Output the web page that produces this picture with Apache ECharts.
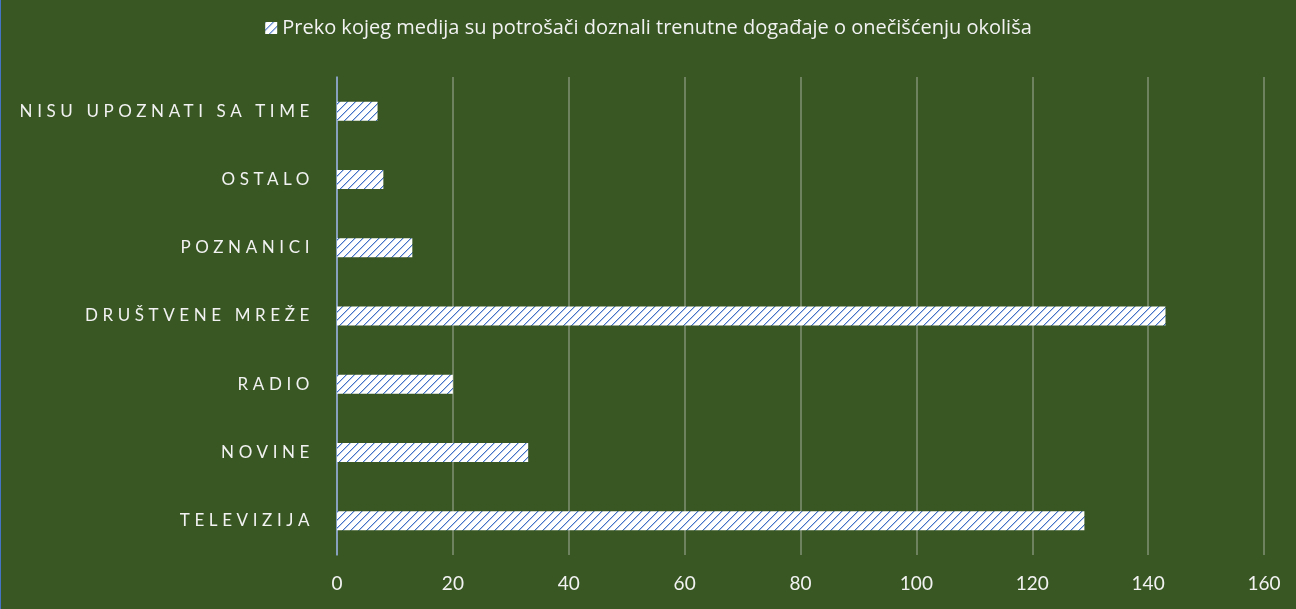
<!DOCTYPE html>
<html>
<head>
<meta charset="utf-8">
<script src="https://cdn.jsdelivr.net/npm/echarts@6/dist/echarts.min.js"></script>
<style>
html,body{margin:0;padding:0;background:#385723;}
#c{width:1296px;height:609px;box-sizing:border-box;border-left:1px solid #4472C4;}
</style>
</head>
<body>
<div id="c"></div>
<script>
const categories = ['TELEVIZIJA', 'NOVINE', 'RADIO', 'DRUŠTVENE MREŽE', 'POZNANICI', 'OSTALO', 'NISU UPOZNATI SA TIME'];
const values = [129, 33, 20, 143, 13, 8, 7];
const seriesName = 'Preko kojeg medija su potrošači doznali trenutne događaje o onečišćenju okoliša';
const xTicks = { min: 0, max: 160, interval: 20 };

// letter-spaced category labels (Excel-style character spacing)
const spaced = new Set(categories);
const origFill = CanvasRenderingContext2D.prototype.fillText;
CanvasRenderingContext2D.prototype.fillText = function (t) {
  if (spaced.has(t) && 'letterSpacing' in this) {
    this.save();
    this.letterSpacing = '4.6px';
    origFill.apply(this, arguments);
    this.restore();
    return;
  }
  return origFill.apply(this, arguments);
};

// diagonal stripe pattern
const pc = document.createElement('canvas');
pc.width = 8; pc.height = 8;
const p = pc.getContext('2d');
p.fillStyle = '#ffffff';
p.fillRect(0, 0, 8, 8);
for (let i = 0; i < 8; i++) {
  p.fillStyle = '#4472C4';
  p.fillRect(i, 7 - i, 1, 1);
  p.fillStyle = '#B5C7EA';
  p.fillRect((i + 1) % 8, 7 - i, 1, 1);
}
const pattern = { image: pc, repeat: 'repeat' };

const chart = echarts.init(document.getElementById('c'), null, { renderer: 'canvas' });
chart.setOption({
  backgroundColor: '#385723',
  animation: false,
  legend: {
    top: 13,
    left: 'center',
    itemWidth: 12,
    itemHeight: 12,
    itemGap: 10,
    icon: 'rect',
    textStyle: { color: '#F2F2F2', fontSize: 20, fontFamily: 'Open Sans' },
    data: [seriesName]
  },
  grid: { left: 336, right: 32, top: 77, bottom: 54, containLabel: false },
  xAxis: {
    type: 'value',
    min: xTicks.min, max: xTicks.max, interval: xTicks.interval,
    axisLine: { show: false },
    axisTick: { show: false },
    axisLabel: { color: '#F2F2F2', fontSize: 19, fontFamily: 'Lato', margin: 19 },
    splitLine: { lineStyle: { color: 'rgba(217,217,217,0.45)', width: 1.5 } }
  },
  yAxis: {
    type: 'category',
    data: categories,
    axisLine: { lineStyle: { color: '#8FAADC', width: 1.5 } },
    axisTick: { show: false },
    axisLabel: { color: '#F2F2F2', fontSize: 17, fontFamily: 'Lato', margin: 23 }
  },
  series: [{
    name: seriesName,
    type: 'bar',
    data: values,
    barWidth: 19,
    itemStyle: { color: pattern }
  }]
});
</script>
</body>
</html>
